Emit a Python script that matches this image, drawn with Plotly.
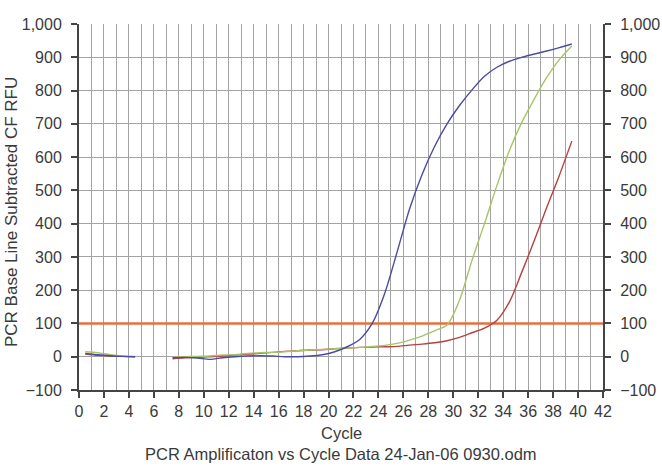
import plotly.graph_objects as go

# ---- data ----
cycles = [0.5, 1.5, 2.5, 3.5, 4.5, 5.5, 6.5, 7.5, 8.5, 9.5,
          10.5, 11.5, 12.5, 13.5, 14.5, 15.5, 16.5, 17.5, 18.5, 19.5,
          20.5, 21.5, 22.5, 23.5, 24.5, 25.5, 26.5, 27.5, 28.5, 29.5,
          30.5, 31.5, 32.5, 33.5, 34.5, 35.5, 36.5, 37.5, 38.5, 39.5]

blue_rfu = [10, 6, 3, 1, 0, None, None, -3, -2, -4,
            -8, -3, 0, 2, 3, 2, 0, 0, 2, 6,
            15, 30, 52, 100, 190, 315, 445, 548, 632, 700,
            755, 802, 843, 870, 888, 900, 910, 919, 929, 940]

green_rfu = [15, 12, 6, 2, 1, None, None, -2, 0, 1,
             2, 5, 6, 10, 12, 13, 15, 18, 20, 22,
             24, 26, 28, 31, 34, 40, 50, 62, 78, 95,
             170, 290, 400, 515, 620, 705, 775, 840, 893, 934]

red_rfu = [8, 4, 2, 1, 0, None, None, -6, -3, -2,
           0, 2, 5, 8, 10, 13, 16, 18, 20, 21,
           24, 26, 28, 29, 30, 31, 35, 38, 42, 48,
           58, 72, 86, 110, 165, 255, 350, 450, 545, 648]

threshold_x = [0, 42]
threshold_y = [100, 100]

x_ticks = list(range(0, 43, 2))
y_ticks = list(range(-100, 1001, 100))

title_x = "Cycle"
title_y = "PCR Base Line Subtracted CF RFU"
caption = "PCR Amplificaton vs Cycle Data 24-Jan-06 0930.odm"

FONT = "Liberation Sans, Arial, sans-serif"
TXT = "#3a3a3a"
GRID = "#a3a3a3"
AX = "#444444"

W, H = 662, 469
ML, MR, MT, MB = 79, 59, 24, 79

fig = go.Figure()
fig.add_trace(go.Scatter(x=threshold_x, y=threshold_y, mode="lines",
                         line=dict(color="#E5703E", width=2.6), hoverinfo="skip"))
for vals, col in [(red_rfu, "#B8403F"), (green_rfu, "#A8C468"), (blue_rfu, "#4B4BA3")]:
    fig.add_trace(go.Scatter(x=cycles, y=vals, mode="lines",
                             line=dict(color=col, width=1.4, shape="spline", smoothing=0.8),
                             connectgaps=False))
# invisible trace so the right axis is drawn
fig.add_trace(go.Scatter(x=[None], y=[None], yaxis="y2", showlegend=False, hoverinfo="skip"))

axis_common = dict(
    showline=True, linecolor=AX, linewidth=2,
    ticks="outside", ticklen=6, tickwidth=1.5, tickcolor=AX,
    tickfont=dict(family=FONT, size=16, color=TXT),
    zeroline=False, automargin=False,
)

plot_h = H - MT - MB
plot_w = W - ML - MR
def py(ypix):
    return (H - MB - ypix) / plot_h
def px(xpix):
    return (xpix - ML) / plot_w

fig.update_layout(
    width=W, height=H, autosize=False,
    margin=dict(l=ML, r=MR, t=MT, b=MB, autoexpand=False),
    paper_bgcolor="white", plot_bgcolor="white",
    showlegend=False,
    font=dict(family=FONT, color=TXT),
    xaxis=dict(range=[0, 42], tickmode="array", tickvals=x_ticks,
               showgrid=True, gridcolor=GRID, gridwidth=1,
               minor=dict(dtick=1, showgrid=True, gridcolor=GRID, gridwidth=1),
               **axis_common),
    yaxis=dict(range=[-100, 1000], tickmode="array", tickvals=y_ticks,
               tickformat=",d", showgrid=True, gridcolor=GRID, gridwidth=1,
               ticklabelstandoff=6, **axis_common),
    yaxis2=dict(range=[-100, 1000], tickmode="array", tickvals=y_ticks,
                tickformat=",d", overlaying="y", side="right", showgrid=False,
                ticklabelstandoff=6, **axis_common),
    annotations=[
        dict(text=title_x, x=px(341), xref="paper", y=py(433), yref="paper",
             yanchor="middle", showarrow=False,
             font=dict(family=FONT, size=16.5, color=TXT)),
        dict(text=caption, x=px(341), xref="paper", y=py(454), yref="paper",
             yanchor="middle", showarrow=False,
             font=dict(family=FONT, size=16.5, color=TXT)),
        dict(text=title_y, x=px(11), xref="paper", xanchor="center",
             y=py(212), yref="paper", yanchor="middle",
             showarrow=False, textangle=-90,
             font=dict(family=FONT, size=17, color=TXT)),
    ],
)

fig.write_html("out.html", config={"displayModeBar": False},
               post_script="document.body.style.margin='0';document.body.style.overflow='hidden';")
